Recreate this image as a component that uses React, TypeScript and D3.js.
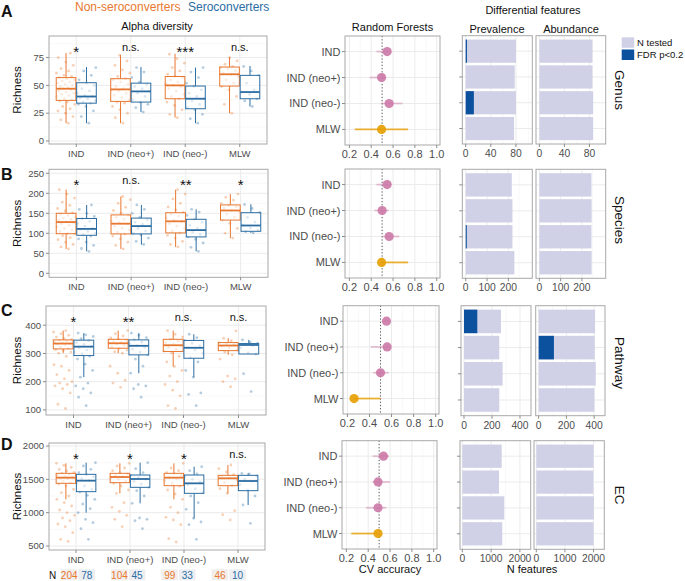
import React from "react";
import * as d3 from "d3";

// ---------------- DATA ----------------
const CATEGORIES = ["IND", "IND (neo+)", "IND (neo-)", "MLW"];
const FEATURE_LEVELS = ["Genus", "Species", "Pathway", "EC"];
const PANEL_LETTERS = ["A", "B", "C", "D"];
const N_NON = [204, 104, 99, 46];
const N_SERO = [78, 45, 33, 10];

// Box stats per category: [lower whisker, q1, median, q3, upper whisker]
const GENUS_BOX_NON = [[16, 36.5, 47, 57, 79], [16, 35.6, 46.4, 56, 77.5], [21, 38, 50, 58, 78.4], [25, 49.4, 60, 66.5, 75.4]];
const GENUS_BOX_SERO = [[16, 34, 40, 52.4, 66.5], [26, 35, 44.6, 52, 66.5], [16, 29, 38, 49.4, 66], [31, 38, 44, 59, 67.4]];
const SPECIES_BOX_NON = [[61, 99, 128, 150, 209], [61, 98.5, 124, 146, 192], [66, 101, 130, 151.5, 209], [87.5, 133, 157, 171, 198]];
const SPECIES_BOX_SERO = [[55, 95, 111, 137, 171], [71.5, 98.5, 118, 138, 171], [55, 91, 108, 135, 160], [101, 105, 119.5, 151.5, 172.5]];
const PATHWAY_BOX_NON = [[301, 316, 335, 348, 381], [301, 318.5, 336, 350, 381], [253.5, 307, 329, 350, 381], [295, 310, 328, 338.5, 354]];
const PATHWAY_BOX_SERO = [[216, 292.5, 324, 347, 372], [230, 295, 327, 348, 372], [216, 283, 320, 346, 368], [298, 298, 330, 335, 348]];
const EC_BOX_NON = [[1200, 1440, 1525, 1590, 1740], [1290, 1450, 1535, 1590, 1740], [1200, 1405, 1525, 1590, 1740], [1290, 1405, 1515, 1560, 1715]];
const EC_BOX_SERO = [[1000, 1315, 1480, 1575, 1750], [1140, 1380, 1505, 1565, 1750], [915, 1290, 1440, 1565, 1690], [1115, 1330, 1475, 1560, 1590]];

// Individual sample values (subset, read approximately from the jittered points)
const GENUS_PTS_NON = [
  [16, 19, 22, 25, 27, 29, 31, 33, 35, 36, 37, 38, 40, 41, 42, 43, 44, 45, 46, 47, 47, 48, 49, 50, 51, 52, 53, 54, 55, 56, 57, 58, 59, 61, 63, 65, 68, 71, 75, 79],
  [16, 21, 25, 28, 31, 34, 35, 37, 39, 41, 43, 45, 46, 47, 49, 51, 53, 55, 56, 58, 61, 64, 68, 72, 77],
  [21, 24, 28, 32, 35, 38, 40, 42, 45, 47, 49, 50, 51, 53, 55, 57, 58, 60, 63, 66, 70, 74, 78],
  [25, 33, 40, 46, 49, 52, 55, 58, 60, 61, 63, 65, 66, 67, 69, 72, 75],
];
const GENUS_PTS_SERO = [
  [16, 22, 27, 31, 33, 34, 35, 36, 38, 39, 40, 41, 43, 45, 47, 50, 52, 55, 59, 63, 66],
  [26, 30, 33, 35, 37, 40, 43, 45, 47, 49, 51, 53, 57, 62, 66],
  [16, 20, 24, 28, 30, 33, 36, 38, 40, 43, 46, 49, 52, 57, 62, 66],
  [31, 36, 38, 42, 44, 46, 52, 59, 63, 67],
];
const SPECIES_PTS_NON = [
  [61, 66, 72, 78, 84, 89, 94, 98, 100, 104, 108, 112, 116, 120, 124, 127, 129, 132, 135, 138, 141, 145, 148, 151, 156, 162, 170, 178, 188, 198, 209],
  [61, 70, 78, 86, 93, 98, 103, 108, 113, 118, 123, 126, 130, 135, 140, 145, 150, 157, 165, 175, 184, 192],
  [66, 72, 80, 88, 95, 101, 106, 112, 118, 124, 129, 133, 138, 143, 148, 152, 158, 166, 175, 186, 198, 209],
  [88, 100, 112, 125, 133, 140, 148, 154, 158, 162, 166, 170, 175, 183, 190, 198],
];
const SPECIES_PTS_SERO = [
  [55, 62, 70, 78, 86, 93, 96, 100, 105, 110, 113, 118, 124, 130, 136, 142, 150, 160, 171],
  [72, 80, 88, 96, 100, 106, 112, 118, 122, 128, 134, 140, 150, 160, 171],
  [55, 65, 76, 85, 91, 97, 103, 108, 113, 120, 128, 135, 145, 153, 160],
  [101, 104, 107, 113, 120, 128, 140, 152, 162, 172],
];
const PATHWAY_PTS_NON = [
  [105, 120, 160, 175, 185, 190, 195, 200, 210, 225, 240, 255, 260, 290, 301, 305, 310, 314, 318, 322, 326, 330, 333, 335, 337, 340, 343, 346, 349, 353, 358, 364, 370, 376, 381],
  [180, 195, 205, 230, 255, 301, 306, 312, 318, 323, 328, 333, 336, 339, 342, 346, 350, 355, 362, 370, 381],
  [105, 115, 150, 170, 190, 200, 220, 240, 254, 270, 290, 302, 308, 315, 322, 328, 332, 338, 344, 350, 358, 368, 381],
  [182, 200, 210, 220, 280, 295, 305, 312, 320, 326, 330, 334, 338, 344, 354, 380],
];
const PATHWAY_PTS_SERO = [
  [115, 145, 160, 175, 185, 195, 216, 240, 262, 280, 290, 298, 305, 312, 320, 326, 332, 338, 345, 352, 360, 366, 372],
  [145, 175, 185, 190, 230, 255, 280, 295, 305, 315, 322, 328, 334, 340, 348, 356, 364, 372],
  [115, 155, 160, 216, 240, 270, 285, 300, 312, 320, 328, 336, 346, 356, 368],
  [165, 228, 298, 302, 320, 328, 333, 336, 340, 348],
];
const EC_PTS_NON = [
  [570, 600, 700, 790, 830, 880, 920, 960, 1000, 1040, 1100, 1150, 1200, 1250, 1300, 1350, 1400, 1430, 1450, 1470, 1490, 1510, 1520, 1530, 1545, 1560, 1575, 1590, 1605, 1625, 1650, 1680, 1710, 1740],
  [790, 900, 960, 1020, 1080, 1150, 1290, 1340, 1400, 1440, 1470, 1500, 1520, 1540, 1560, 1580, 1600, 1630, 1670, 1700, 1740],
  [560, 610, 820, 890, 930, 1000, 1080, 1200, 1280, 1340, 1400, 1440, 1480, 1510, 1530, 1555, 1580, 1600, 1630, 1670, 1740],
  [890, 970, 1030, 1290, 1360, 1410, 1450, 1490, 1520, 1540, 1570, 1610, 1660, 1715],
];
const EC_PTS_SERO = [
  [600, 760, 850, 900, 1000, 1060, 1130, 1200, 1260, 1310, 1350, 1400, 1440, 1480, 1510, 1540, 1570, 1600, 1650, 1700, 1750],
  [760, 880, 900, 920, 1140, 1250, 1330, 1380, 1430, 1470, 1500, 1530, 1560, 1600, 1660, 1750],
  [600, 820, 860, 915, 1050, 1150, 1250, 1300, 1360, 1420, 1460, 1500, 1540, 1580, 1630, 1690],
  [840, 1115, 1250, 1340, 1420, 1470, 1500, 1550, 1580, 1590],
];

const SIG_GENUS = ["*", "n.s.", "***", "n.s."];
const SIG_SPECIES = ["*", "n.s.", "**", "*"];
const SIG_PATHWAY = ["*", "**", "n.s.", "n.s."];
const SIG_EC = ["*", "*", "*", "n.s."];

// Random forests CV accuracy: [estimate, low, high]
const RF_GENUS = [[0.546, 0.447, 0.582], [0.495, 0.386, 0.537], [0.564, 0.49, 0.687], [0.495, 0.25, 0.738]];
const RF_SPECIES = [[0.546, 0.447, 0.582], [0.5, 0.43, 0.56], [0.564, 0.507, 0.657], [0.495, 0.495, 0.738]];
const RF_PATHWAY = [[0.554, 0.53, 0.58], [0.56, 0.41, 0.58], [0.5, 0.434, 0.575], [0.26, 0.26, 0.5]];
const RF_EC = [[0.54, 0.44, 0.59], [0.49, 0.44, 0.6], [0.49, 0.38, 0.565], [0.49, 0.245, 0.49]];

// Differential features: N tested and N with FDR p<0.2
const GENUS_PREV_TESTED = [80, 78, 80, 77];
const GENUS_PREV_FDR = [2, 0, 13, 0];
const GENUS_ABUND_TESTED = [85, 85, 86, 86];
const GENUS_ABUND_FDR = [0, 0, 0, 0];
const SPECIES_PREV_TESTED = [216, 219, 219, 228];
const SPECIES_PREV_FDR = [0, 0, 5, 0];
const SPECIES_ABUND_TESTED = [245, 246, 245, 246];
const SPECIES_ABUND_FDR = [0, 0, 0, 0];
const PATHWAY_PREV_TESTED = [264, 252, 276, 252];
const PATHWAY_PREV_FDR = [95, 0, 0, 0];
const PATHWAY_ABUND_TESTED = [407, 405, 412, 402];
const PATHWAY_ABUND_FDR = [0, 110, 0, 0];
const EC_PREV_TESTED = [1368, 1274, 1458, 1389];
const EC_PREV_FDR = [0, 0, 0, 0];
const EC_ABUND_TESTED = [2000, 1993, 2010, 2000];
const EC_ABUND_FDR = [0, 0, 0, 0];

// ---------------- STYLE / LAYOUT ----------------
const FONT = "'Liberation Sans', Arial, Helvetica, sans-serif";
const ORANGE = "#E8772F";
const BLUE = "#2B6DA3";
const PINK = "#CC79A7";
const GOLD = "#E69F00";
const LAV = "#D0D1E6";
const DARKBLUE = "#0B519E";
const GRID = "#EBEBEB";
const GRID_MINOR = "#F5F5F5";
const BORDER = "#A8A8A8";
const TICK = "#8C8C8C";
const TXT = "#4D4D4D";

const ROWS = [
  {
    letterY: 17, alpha: { l: 49, r: 267, t: 36, b: 144 }, yDom: [-2.7, 94.4], yTicks: [0, 25, 50, 75],
    rf: { l: 345, r: 440, t: 36, b: 145 },
    prev: { l: 462.3, r: 532.3 }, abund: { l: 536, r: 605.7 }, dT: 35.7, dB: 144,
    dDom: [-5.4, 106], dTicks: [0, 40, 80], dMinor: [20, 60, 100], stripY: 90,
    box: [GENUS_BOX_NON, GENUS_BOX_SERO], pts: [GENUS_PTS_NON, GENUS_PTS_SERO], sig: SIG_GENUS, rfd: RF_GENUS,
    diff: [GENUS_PREV_TESTED, GENUS_PREV_FDR, GENUS_ABUND_TESTED, GENUS_ABUND_FDR],
  },
  {
    letterY: 180, alpha: { l: 49, r: 268, t: 169.3, b: 277.3 }, yDom: [-10, 260], yTicks: [0, 50, 100, 150, 200, 250],
    rf: { l: 345, r: 440, t: 169, b: 278 },
    prev: { l: 462.3, r: 532.3 }, abund: { l: 536, r: 605.7 }, dT: 169.3, dB: 278.3,
    dDom: [-16, 312], dTicks: [0, 100, 200], dMinor: [50, 150, 250], stripY: 220,
    box: [SPECIES_BOX_NON, SPECIES_BOX_SERO], pts: [SPECIES_PTS_NON, SPECIES_PTS_SERO], sig: SIG_SPECIES, rfd: RF_SPECIES,
    diff: [SPECIES_PREV_TESTED, SPECIES_PREV_FDR, SPECIES_ABUND_TESTED, SPECIES_ABUND_FDR],
  },
  {
    letterY: 316, alpha: { l: 46, r: 266, t: 306, b: 415 }, yDom: [82, 468], yTicks: [100, 200, 300, 400],
    rf: { l: 343, r: 439, t: 305.7, b: 414 },
    prev: { l: 461, r: 531 }, abund: { l: 535.7, r: 605 }, dT: 305.7, dB: 415.7,
    dDom: [-21.4, 478.6], dTicks: [0, 200, 400], dMinor: [100, 300], stripY: 363,
    box: [PATHWAY_BOX_NON, PATHWAY_BOX_SERO], pts: [PATHWAY_PTS_NON, PATHWAY_PTS_SERO], sig: SIG_PATHWAY, rfd: RF_PATHWAY,
    diff: [PATHWAY_PREV_TESTED, PATHWAY_PREV_FDR, PATHWAY_ABUND_TESTED, PATHWAY_ABUND_FDR],
  },
  {
    letterY: 450, alpha: { l: 49, r: 265, t: 443, b: 550 }, yDom: [440, 2045], yTicks: [500, 1000, 1500, 2000],
    rf: { l: 342, r: 437, t: 440.7, b: 549 },
    prev: { l: 460, r: 530.7 }, abund: { l: 534, r: 604.3 }, dT: 440.7, dB: 549.3,
    dDom: [-80, 2375], dTicks: [0, 1000, 2000], dMinor: [500, 1500], stripY: 495,
    box: [EC_BOX_NON, EC_BOX_SERO], pts: [EC_PTS_NON, EC_PTS_SERO], sig: SIG_EC, rfd: RF_EC,
    diff: [EC_PREV_TESTED, EC_PREV_FDR, EC_ABUND_TESTED, EC_ABUND_FDR],
  },
];

const SERIES_COLORS = [ORANGE, BLUE];

function AlphaPanel({ cfg }: any) {
  const { l, r, t, b } = cfg.alpha;
  const x = d3.scalePoint<string>().domain(CATEGORIES).range([l, r]).padding(0.5);
  const step = x.step();
  const y = d3.scaleLinear().domain(cfg.yDom).range([b, t]);
  const tStep = cfg.yTicks[1] - cfg.yTicks[0];
  const minor = [cfg.yTicks[0] - tStep / 2, ...cfg.yTicks.map((v: number) => v + tStep / 2)].filter(
    (v) => v > cfg.yDom[0] && v < cfg.yDom[1]
  );
  const bw = 0.36 * step;
  const dodge = 0.1875 * step;
  const jit = 0.18 * step;
  return (
    <g>
      <rect x={l} y={t} width={r - l} height={b - t} fill="#fff" />
      {minor.map((v: number, i: number) => (
        <line key={"mn" + i} x1={l} x2={r} y1={y(v)} y2={y(v)} stroke={GRID_MINOR} strokeWidth={0.6} />
      ))}
      {cfg.yTicks.map((v: number) => (
        <line key={"mj" + v} x1={l} x2={r} y1={y(v)} y2={y(v)} stroke={GRID} strokeWidth={1} />
      ))}
      {CATEGORIES.map((c) => (
        <line key={"vx" + c} x1={x(c)} x2={x(c)} y1={t} y2={b} stroke={GRID} strokeWidth={1} />
      ))}
      {CATEGORIES.map((c, ci) =>
        [0, 1].map((s) => {
          const cx = (x(c) as number) + (s === 0 ? -dodge : dodge);
          const vals: number[] = cfg.pts[s][ci];
          return (
            <g key={"p" + ci + s}>
              {vals.map((v, i) => {
                const off = ((((i + 1) * 0.618034) % 1) - 0.5) * 2 * jit;
                return <circle key={i} cx={cx + off} cy={y(v)} r={1.4} fill={SERIES_COLORS[s]} fillOpacity={0.35} />;
              })}
            </g>
          );
        })
      )}
      {CATEGORIES.map((c, ci) =>
        [0, 1].map((s) => {
          const cx = (x(c) as number) + (s === 0 ? -dodge : dodge);
          const [mn, q1, md, q3, mx] = cfg.box[s][ci];
          const col = SERIES_COLORS[s];
          return (
            <g key={"b" + ci + s}>
              <line x1={cx} x2={cx} y1={y(mx)} y2={y(q3)} stroke={col} strokeWidth={1} />
              <line x1={cx} x2={cx} y1={y(q1)} y2={y(mn)} stroke={col} strokeWidth={1} />
              <rect x={cx - bw / 2} y={y(q3)} width={bw} height={Math.max(0.5, y(q1) - y(q3))} fill="#fff" fillOpacity={0.55} stroke={col} strokeWidth={1} />
              <line x1={cx - bw / 2} x2={cx + bw / 2} y1={y(md)} y2={y(md)} stroke={col} strokeWidth={1.8} />
            </g>
          );
        })
      )}
      <rect x={l} y={t} width={r - l} height={b - t} fill="none" stroke={BORDER} strokeWidth={1} />
      {cfg.yTicks.map((v: number) => (
        <g key={"yt" + v}>
          <line x1={l - 3} x2={l} y1={y(v)} y2={y(v)} stroke={TICK} />
          <text x={l - 5} y={y(v) + 3.3} textAnchor="end" fontSize={9.5} fill={TXT}>{v}</text>
        </g>
      ))}
      {CATEGORIES.map((c) => (
        <g key={"xt" + c}>
          <line x1={x(c)} x2={x(c)} y1={b} y2={b + 3} stroke={TICK} />
          <text x={x(c)} y={b + 12.5} textAnchor="middle" fontSize={9.5} fill={TXT}>{c}</text>
        </g>
      ))}
      {CATEGORIES.map((c, ci) => {
        const lab = cfg.sig[ci];
        const star = lab !== "n.s.";
        return (
          <text key={"sg" + c} x={x(c)} y={t + (star ? 20.5 : 15)} textAnchor="middle" fontSize={star ? 15 : 11} fill="#111">
            {lab}
          </text>
        );
      })}
      <text transform={`translate(${20.7},${(t + b) / 2}) rotate(-90)`} textAnchor="middle" fontSize={11.5} fill="#111">
        Richness
      </text>
    </g>
  );
}

function RFPanel({ cfg }: any) {
  const { l, r, t, b } = cfg.rf;
  const x = d3.scaleLinear().domain([0.16, 1.03]).range([l, r]);
  const y = d3.scalePoint<string>().domain(CATEGORIES).range([t, b]).padding(0.6);
  const major = [0.2, 0.4, 0.6, 0.8, 1.0];
  const minor = [0.3, 0.5, 0.7, 0.9];
  return (
    <g>
      <rect x={l} y={t} width={r - l} height={b - t} fill="#fff" />
      {minor.map((v) => (
        <line key={"mn" + v} x1={x(v)} x2={x(v)} y1={t} y2={b} stroke={GRID_MINOR} strokeWidth={0.6} />
      ))}
      {major.map((v) => (
        <line key={"mj" + v} x1={x(v)} x2={x(v)} y1={t} y2={b} stroke={GRID} strokeWidth={1} />
      ))}
      {CATEGORIES.map((c) => (
        <line key={"hy" + c} x1={l} x2={r} y1={y(c)} y2={y(c)} stroke={GRID} strokeWidth={1} />
      ))}
      <line x1={x(0.5)} x2={x(0.5)} y1={t} y2={b} stroke="#555" strokeWidth={1} strokeDasharray="1.2,2" />
      {CATEGORIES.map((c, ci) => {
        const [est, lo, hi] = cfg.rfd[ci];
        const col = c === "MLW" ? GOLD : PINK;
        return (
          <g key={"rf" + c}>
            <line x1={x(lo)} x2={x(hi)} y1={y(c)} y2={y(c)} stroke={col} strokeWidth={1.8} strokeOpacity={c === "MLW" ? 0.8 : 0.45} />
            <circle cx={x(est)} cy={y(c)} r={4.6} fill={col} fillOpacity={0.9} />
          </g>
        );
      })}
      <rect x={l} y={t} width={r - l} height={b - t} fill="none" stroke={BORDER} strokeWidth={1} />
      {CATEGORIES.map((c) => (
        <g key={"yl" + c}>
          <line x1={l - 3} x2={l} y1={y(c)} y2={y(c)} stroke={TICK} />
          <text x={l - 4.5} y={(y(c) as number) + 4} textAnchor="end" fontSize={11} fill={TXT}>{c}</text>
        </g>
      ))}
      {major.map((v) => (
        <g key={"xl" + v}>
          <line x1={x(v)} x2={x(v)} y1={b} y2={b + 3} stroke={TICK} />
          <text x={x(v)} y={b + 12.8} textAnchor="middle" fontSize={11} fill={TXT}>{v.toFixed(1)}</text>
        </g>
      ))}
    </g>
  );
}

function DiffPanel({ cfg, which }: any) {
  const p = which === 0 ? cfg.prev : cfg.abund;
  const t = cfg.dT, b = cfg.dB;
  const tested: number[] = cfg.diff[which * 2];
  const fdr: number[] = cfg.diff[which * 2 + 1];
  const x = d3.scaleLinear().domain(cfg.dDom).range([p.l, p.r]);
  const y = d3.scalePoint<string>().domain(CATEGORIES).range([t, b]).padding(0.6);
  const bh = 0.9 * y.step();
  return (
    <g>
      <rect x={p.l} y={t} width={p.r - p.l} height={b - t} fill="#fff" />
      {cfg.dMinor.map((v: number) => (
        <line key={"mn" + v} x1={x(v)} x2={x(v)} y1={t} y2={b} stroke={GRID_MINOR} strokeWidth={0.6} />
      ))}
      {cfg.dTicks.map((v: number) => (
        <line key={"mj" + v} x1={x(v)} x2={x(v)} y1={t} y2={b} stroke={GRID} strokeWidth={1} />
      ))}
      {CATEGORIES.map((c) => (
        <line key={"hy" + c} x1={p.l} x2={p.r} y1={y(c)} y2={y(c)} stroke={GRID} strokeWidth={1} />
      ))}
      {CATEGORIES.map((c, ci) => (
        <g key={"bar" + c}>
          <rect x={x(0)} y={(y(c) as number) - bh / 2} width={x(tested[ci]) - x(0)} height={bh} fill={LAV} />
          {fdr[ci] > 0 && (
            <rect x={x(0)} y={(y(c) as number) - bh / 2} width={x(fdr[ci]) - x(0)} height={bh} fill={DARKBLUE} />
          )}
        </g>
      ))}
      <rect x={p.l} y={t} width={p.r - p.l} height={b - t} fill="none" stroke={BORDER} strokeWidth={1} />
      {which === 0 &&
        CATEGORIES.map((c) => (
          <line key={"yt" + c} x1={p.l - 3} x2={p.l} y1={y(c)} y2={y(c)} stroke={TICK} />
        ))}
      {cfg.dTicks.map((v: number) => (
        <g key={"xl" + v}>
          <line x1={x(v)} x2={x(v)} y1={b} y2={b + 3} stroke={TICK} />
          <text x={x(v)} y={b + 12.8} textAnchor="middle" fontSize={10.3} fill={TXT}>{v}</text>
        </g>
      ))}
    </g>
  );
}

function NRow() {
  const x = d3.scalePoint<string>().domain(CATEGORIES).range([78, 228.8]);
  const top = 569.3, h = 11;
  return (
    <g>
      <text x={52.5} y={578.5} textAnchor="middle" fontSize={10} fill="#111">N</text>
      {CATEGORIES.map((c, ci) => {
        const cx = x(c) as number;
        return (
          <g key={"n" + c}>
            <rect x={cx - 17.2} y={top} width={16.5} height={h} fill="#F1EEEC" />
            <rect x={cx + 0.5} y={top} width={16.5} height={h} fill="#ECEEF1" />
            <text x={cx - 8.8} y={578.5} textAnchor="middle" fontSize={10} fill={ORANGE}>{N_NON[ci]}</text>
            <text x={cx + 8.8} y={578.5} textAnchor="middle" fontSize={10} fill={BLUE}>{N_SERO[ci]}</text>
          </g>
        );
      })}
    </g>
  );
}

export default function App() {
  return (
    <svg
      width={685}
      height={581}
      viewBox="0 0 685 581"
      style={{ position: "absolute", left: 0, top: 0, display: "block" }}
      fontFamily={FONT}
    >
      <rect width={685} height={581} fill="#fff" />
      {/* Headers */}
      <text x={75} y={11} fontSize={12} fill={ORANGE}>Non-seroconverters</text>
      <text x={188} y={11} fontSize={12} fill={BLUE}>Seroconverters</text>
      <text x={157} y={29.5} textAnchor="middle" fontSize={11} fill="#111">Alpha diversity</text>
      <text x={392.5} y={30.5} textAnchor="middle" fontSize={11} fill="#111">Random Forests</text>
      <text x={533} y={14} textAnchor="middle" fontSize={11} fill="#111">Differential features</text>
      <text x={497} y={33} textAnchor="middle" fontSize={11} fill="#111">Prevalence</text>
      <text x={571} y={33} textAnchor="middle" fontSize={11} fill="#111">Abundance</text>
      {/* Legend */}
      <rect x={621.7} y={37.3} width={12.5} height={10.5} fill={LAV} />
      <rect x={621.7} y={49.5} width={12.5} height={10.5} fill={DARKBLUE} />
      <text x={637} y={45.8} fontSize={9.5} fill="#111">N tested</text>
      <text x={637} y={57.8} fontSize={9.5} fill="#111">FDR p&lt;0.2</text>

      {ROWS.map((cfg, ri) => (
        <g key={"row" + ri}>
          <text x={1} y={cfg.letterY} fontSize={16} fontWeight="bold" fill="#111">{PANEL_LETTERS[ri]}</text>
          <AlphaPanel cfg={cfg} />
          <RFPanel cfg={cfg} />
          <DiffPanel cfg={cfg} which={0} />
          <DiffPanel cfg={cfg} which={1} />
          <text transform={`translate(${614.5},${cfg.stripY}) rotate(90)`} textAnchor="middle" fontSize={13.5} fill="#111">
            {FEATURE_LEVELS[ri]}
          </text>
        </g>
      ))}
      <NRow />
      <text x={390} y={573} textAnchor="middle" fontSize={11} fill="#111">CV accuracy</text>
      <text x={532} y={573} textAnchor="middle" fontSize={11} fill="#111">N features</text>
    </svg>
  );
}
